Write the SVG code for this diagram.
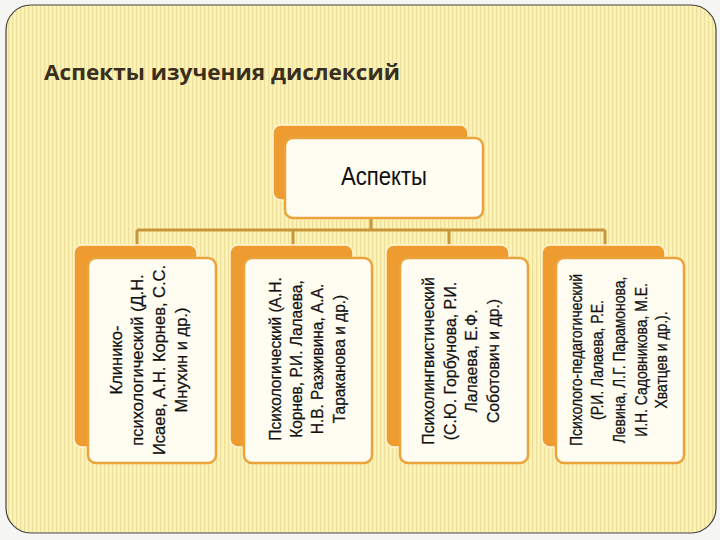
<svg xmlns="http://www.w3.org/2000/svg" width="720" height="540" viewBox="0 0 720 540">
<defs>
<pattern id="stripes" width="4" height="4" patternUnits="userSpaceOnUse">
<rect width="4" height="4" fill="#fcf3b8"/>
<rect x="0" width="1.3" height="4" fill="#eee09a"/>
</pattern>
<style>
.back{fill:#ee9c2f;stroke:#fff6d8;stroke-width:1.5}
.front{fill:#fffcf2;stroke:#eba43c;stroke-width:2.5}
.lbl{font-family:"Liberation Sans",Arial,sans-serif;font-size:17px;fill:#111;stroke:#111;stroke-width:0.25;text-anchor:middle}
.conn{stroke:#c9953a;stroke-width:3;fill:none}
</style>
</defs>
<rect width="720" height="540" fill="#f5f5f3"/>
<rect x="6" y="5" width="710" height="528" rx="25" fill="url(#stripes)" stroke="#444" stroke-width="1.2"/>
<text x="44" y="80" font-family="'Open Sans','Liberation Sans',sans-serif" font-weight="bold" font-size="21" fill="#3a2e1e" textLength="356" lengthAdjust="spacingAndGlyphs">Аспекты изучения дислексий</text>

<g id="connectors">
<path class="conn" d="M371 218V230M137 230H605M137 230V245M293 230V245M449 230V245M605 230V245"/>
</g>

<g id="root">
<rect class="back" x="273" y="125" width="195" height="75" rx="8"/>
<rect class="front" x="285" y="138" width="198" height="80" rx="8"/>
<text x="384" y="185" font-family="'Liberation Sans',Arial,sans-serif" font-size="26" fill="#111" text-anchor="middle" textLength="86" lengthAdjust="spacingAndGlyphs">Аспекты</text>
</g>

<g id="n1">
<rect class="back" x="74" y="245" width="123" height="202" rx="8"/>
<rect class="front" x="88" y="258" width="128" height="205" rx="8"/>
<text class="lbl" transform="translate(122,360) rotate(-90) scale(0.97,1)">Клинико-</text>
<text class="lbl" transform="translate(143,360) rotate(-90) scale(0.97,1)">психологический (Д.Н.</text>
<text class="lbl" transform="translate(165,360) rotate(-90) scale(0.97,1)">Исаев, А.Н. Корнев, С.С.</text>
<text class="lbl" transform="translate(187,360) rotate(-90) scale(0.97,1)">Мнухин и др.)</text>
</g>

<g id="n2">
<rect class="back" x="230" y="245" width="123" height="202" rx="8"/>
<rect class="front" x="244" y="258" width="128" height="205" rx="8"/>
<text class="lbl" transform="translate(281,359) rotate(-90) scale(0.91,1)">Психологический (А.Н.</text>
<text class="lbl" transform="translate(302,359) rotate(-90) scale(0.91,1)">Корнев, Р.И. Лалаева,</text>
<text class="lbl" transform="translate(323,359) rotate(-90) scale(0.91,1)">Н.В. Разживина, А.А.</text>
<text class="lbl" transform="translate(345,359) rotate(-90) scale(0.91,1)">Тараканова и др.)</text>
</g>

<g id="n3">
<rect class="back" x="386" y="245" width="123" height="202" rx="8"/>
<rect class="front" x="400" y="258" width="128" height="205" rx="8"/>
<text class="lbl" transform="translate(434,361) rotate(-90) scale(0.93,1)">Психолингвистический</text>
<text class="lbl" transform="translate(456,361) rotate(-90) scale(0.93,1)">(С.Ю. Горбунова, Р.И.</text>
<text class="lbl" transform="translate(477,361) rotate(-90) scale(0.93,1)">Лалаева, Е.Ф.</text>
<text class="lbl" transform="translate(499,361) rotate(-90) scale(0.93,1)">Соботович и др.)</text>
</g>

<g id="n4">
<rect class="back" x="542" y="245" width="123" height="202" rx="8"/>
<rect class="front" x="556" y="258" width="128" height="205" rx="8"/>
<text class="lbl" transform="translate(582,360) rotate(-90) scale(0.82,1)">Психолого-педагогический</text>
<text class="lbl" transform="translate(603,360) rotate(-90) scale(0.82,1)">(Р.И. Лалаева, Р.Е.</text>
<text class="lbl" transform="translate(625,360) rotate(-90) scale(0.82,1)">Левина, Л.Г. Парамонова,</text>
<text class="lbl" transform="translate(647,360) rotate(-90) scale(0.82,1)">И.Н. Садовникова, М.Е.</text>
<text class="lbl" transform="translate(667,360) rotate(-90) scale(0.82,1)">Хватцев и др.).</text>
</g>
</svg>
